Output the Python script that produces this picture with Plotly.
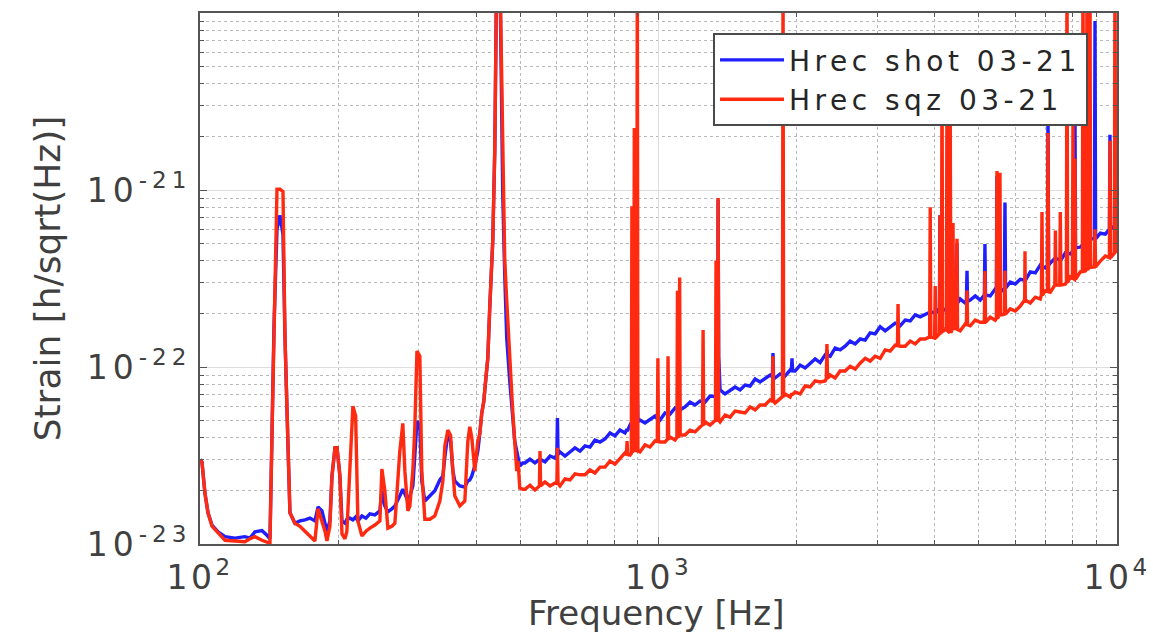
import plotly.graph_objects as go

# Units of the value lists: strain in 1e-23 h/sqrt(Hz)
SCALE = 1e-23

freq_hz = [
    100, 101, 102.5, 104.1, 106.2, 109.5, 113.4, 119.2, 125.3, 128.5, 131.8, 136.5, 140.0, 142.1,
    143.6, 145.0, 147.2, 149.4, 151.7, 153.2, 155.5, 157.1, 161.1,
    165.2, 169.4, 173.7, 178.1, 180.9, 184.5, 187.3, 189.2, 192.0, 194.0, 197.0, 199.0, 201.9, 204.0, 207.1, 209.1, 212.3, 215.5, 218.5, 221.0,
    225.5, 230.1, 234.7, 240.7, 246.8, 249.3, 253.0, 256.9, 262.1, 266.1, 272.8, 276.9, 279.8, 284.0, 286.9, 291.2, 294.0, 297.3, 301.6, 304.6, 309.3,
    317.1, 325.2, 333.5, 338.6, 342.0, 347.2, 352.0, 356.0, 359.5, 368.7, 378.1, 383.8, 387.6, 391.5, 397.5, 403.6,
    407.6, 411.7, 415.9, 420.0, 424.3, 428.6, 432.8, 435.1, 439.5, 443.9, 450.6, 457.4, 462.0, 466.7, 473.8, 481.0, 485.8, 490.7, 494.0, 498.2, 505.8,
    511.4, 524.4, 537.8, 549.9, 551.5, 553.1, 565.5, 579.9, 594.6, 600.2, 602.0, 603.8, 609.7,
    625.2, 641.1, 657.4, 674.2, 691.3, 708.9, 726.9, 745.4, 764.4, 783.8, 803.8, 824.2, 845.2, 851.4, 854.0, 856.6, 866.7,
    872.4, 875.0, 877.6, 883.0, 885.6, 888.2, 896.3, 899.0, 901.7, 911.3, 934.5, 958.3, 982.7, 994.0, 997.0, 1000.0, 1007.7, 1033.3, 1045.9, 1049.0, 1052.1,
    1059.6, 1086.6, 1096.7, 1100.0, 1103.3, 1108.7, 1112.0, 1115.3, 1142.6, 1171.6, 1201.4, 1232.0, 1247.2, 1251.0, 1254.8, 1263.4, 1295.5, 1331.0, 1335.0, 1339.0, 1345.0, 1349.0, 1353.0,
    1362.3, 1397.0, 1432.5, 1469.0, 1506.3, 1544.7, 1584.0, 1624.3, 1665.6, 1708.0, 1751.4, 1771.7, 1777.0, 1782.3, 1796.0, 1841.7, 1863.4, 1869.0, 1874.6, 1888.6, 1936.6, 1949.1, 1955.0, 1960.9, 1985.9, 2036.4,
    2088.2, 2141.4, 2195.9, 2251.7, 2309.0, 2323.0, 2330.0, 2337.0, 2367.8, 2428.0, 2489.8, 2553.2, 2618.2, 2684.8, 2753.1, 2823.2, 2895.0, 2968.7, 3044.2, 3121.7, 3201.1, 3282.6,
    3320.0, 3330.0, 3340.0, 3366.1, 3451.8, 3539.6, 3629.7, 3722.0, 3816.8, 3902.0, 3914.0, 3926.0, 4001.0, 4013.5, 4026.0,
    4099.0, 4111.0, 4123.0, 4141.0, 4153.0, 4165.0, 4220.3, 4246.0, 4258.0, 4270.0, 4315.0, 4328.0, 4341.0, 4376.0, 4389.0, 4402.0, 4437.9, 4464.0, 4477.0, 4490.0,
    4550.8, 4666.6, 4694.0, 4708.0, 4722.0, 4785.4, 4907.2, 5032.0, 5137.0, 5152.0, 5167.0, 5291.4, 5426.0, 5457.0, 5473.0, 5489.0, 5540.0, 5556.0, 5572.0, 5640.0, 5680.0, 5697.0, 5714.0,
    5850.9, 5999.8, 6152.5, 6290.0, 6300.0, 6310.0, 6469.6, 6634.3, 6803.1, 6841.0, 6861.0, 6881.0, 6976.2, 7051.0, 7072.0, 7093.0, 7153.7,
    7318.0, 7340.0, 7362.0, 7500.0, 7522.5, 7545.0, 7713.9, 7757.0, 7780.0, 7803.0, 7910.2, 7993.0, 8017.0, 8041.0, 8075.0, 8098.0, 8122.0,
    8317.9, 8404.0, 8429.0, 8454.0, 8529.6, 8575.0, 8601.0, 8627.0, 8705.0, 8731.0, 8757.0, 8927.0, 8954.0, 8981.0, 9197.5, 9431.5, 9625.0, 9654.0, 9683.0, 9870.0, 9900.0, 9930.0, 10000,
]

shot_1e23 = [
    3.0, 2.9, 1.94, 1.50, 1.28, 1.17, 1.10, 1.08, 1.10, 1.08, 1.17, 1.19, 1.12, 1.07,
    4.4, 17, 60, 72, 56, 15, 3.7, 1.5, 1.31,
    1.35, 1.37, 1.40, 1.35, 1.62, 1.54, 1.31, 1.18, 1.35, 2.42, 3.5, 3.5, 2.42, 1.35, 1.31, 1.38, 1.40, 1.37, 1.42, 1.35,
    1.44, 1.40, 1.48, 1.46, 1.54, 2.0, 1.64, 1.52, 1.58, 1.64, 1.87, 2.04, 1.92, 1.75, 1.87, 2.13, 3.1, 4.95, 4.6, 2.27, 1.75,
    1.87, 2.0, 2.3, 2.42, 3.1, 4.2, 3.8, 2.6, 2.27, 2.13, 2.1, 2.27, 2.3, 2.42, 2.76, 3.35,
    4.2, 5.5, 6.4, 8.6, 11.2, 22, 40, 52, 170, 2000, 2000, 95, 33, 14.5, 8.3, 5.5, 3.8, 3.35, 3.1, 2.76, 2.87,
    2.87, 3.02, 2.87, 3.0, 3.02, 3.0, 2.91, 3.14, 3.06, 3.2, 5.15, 3.2, 3.31,
    3.14, 3.31, 3.49, 3.35, 3.58, 3.53, 3.87, 3.77, 3.92, 4.24, 4.08, 4.41, 4.24, 4.4, 4.4, 4.4, 4.70,
    4.6, 4.6, 4.6, 4.64, 40, 4.64, 4.9, 7.5, 4.9, 5.02, 4.83, 5.02, 5.28, 5.1, 5.1, 5.1, 5.02, 5.50, 5.45, 5.45, 5.45,
    5.42, 5.87, 5.8, 5.8, 5.8, 5.72, 5.72, 5.72, 5.95, 6.34, 6.10, 6.43, 6.4, 6.4, 6.4, 6.34, 6.86, 6.8, 6.8, 6.8, 6.9, 88, 11.5,
    7.42, 7.04, 7.32, 7.71, 7.42, 7.91, 7.81, 8.56, 8.23, 8.56, 9.01, 8.8, 12.0, 8.8, 8.67, 9.13, 9.0, 9.0, 9.0, 8.89, 9.61, 9.5, 11.2, 9.5, 9.49, 10.25,
    9.87, 10.4, 11.1, 10.6, 11.7, 11.6, 12.5, 11.6, 11.5, 12.8, 12.5, 13.1, 14.0, 13.5, 14.4, 14.2, 15.6, 15.4, 16.9, 16.0, 16.9, 17.7,
    17.5, 17.5, 17.5, 17.1, 18.4, 18.2, 19.7, 19.2, 19.9, 20.5, 20.5, 20.5, 20.2, 20.2, 20.2,
    21.5, 72, 21.5, 21.2, 21.2, 21.2, 21.0, 21.5, 21.5, 21.5, 22.7, 22.7, 22.7, 22.4, 22.4, 22.4, 22.4, 23.0, 50, 23.0,
    24.2, 23.0, 23.5, 35, 23.5, 23.9, 25.2, 23.9, 25.5, 49.5, 25.5, 25.2, 27.6, 27, 120, 27, 26.5, 26.5, 26.5, 27.5, 27.9, 85, 27.9,
    30.2, 29.4, 31.3, 30.9, 30.9, 30.9, 34.5, 34.0, 37.7, 37, 37, 37, 36.3, 37.5, 260, 37.5, 38.7,
    41.0, 41.0, 41.0, 40.2, 40.2, 40.2, 44.1, 44, 44, 44, 43.5, 45, 45, 45, 47, 265, 47,
    47.6, 49, 49, 49, 50.2, 51, 51, 51, 53, 53, 53, 53, 900, 53, 57.0, 56.3, 60, 205, 60, 62.6, 62.6, 62.6, 64.2,
]

sqz_1e23 = [
    3.0, 2.9, 1.94, 1.50, 1.26, 1.15, 1.05, 1.04, 1.03, 1.07, 1.10, 1.05, 1.03, 1.01,
    4.4, 17, 101, 101, 98, 15, 3.7, 1.5, 1.31,
    1.26, 1.18, 1.10, 1.04, 1.58, 1.35, 1.18, 1.04, 1.26, 2.42, 3.5, 3.5, 2.42, 1.14, 1.07, 1.18, 2.58, 6.0, 5.3, 1.35,
    1.11, 1.18, 1.23, 1.28, 1.35, 2.65, 2.0, 1.23, 1.26, 1.31, 3.35, 4.8, 2.58, 1.54, 1.64, 2.6, 4.4, 12.3, 11.5, 2.58, 1.38,
    1.38, 1.44, 1.75, 2.27, 3.58, 4.4, 4.1, 2.6, 1.87, 1.64, 1.75, 3.8, 4.6, 4.0, 2.58, 3.8,
    4.2, 5.5, 6.4, 8.6, 11.2, 22, 40, 52, 170, 2000, 2000, 128, 40, 23.6, 10.8, 5.6, 3.8, 2.58, 2.94, 2.07, 2.04,
    2.04, 2.15, 2.02, 2.13, 3.35, 2.13, 2.24, 2.13, 2.21, 2.2, 3.5, 2.2, 2.13,
    2.33, 2.30, 2.49, 2.46, 2.46, 2.62, 2.52, 2.72, 2.72, 2.94, 2.83, 3.06, 3.27, 3.2, 3.82, 3.2, 3.18,
    3.25, 81, 3.3, 3.4, 224, 3.4, 3.35, 2000, 3.35, 3.31, 3.63, 3.53, 3.82, 3.8, 11.2, 3.8, 3.77, 3.77, 3.9, 11.5, 3.9,
    4.02, 3.87, 4.0, 27, 4.0, 4.1, 32, 4.13, 4.13, 4.40, 4.30, 4.58, 4.7, 16.2, 4.7, 4.89, 4.70, 5.0, 40, 5.0, 5.0, 90, 5.0,
    4.89, 5.35, 5.21, 5.64, 5.57, 5.50, 5.95, 5.72, 6.10, 6.10, 6.52, 6.4, 11.5, 6.4, 6.26, 6.60, 6.8, 2000, 6.8, 7.04, 6.77, 7.0, 7.0, 7.0, 7.23, 7.04,
    7.81, 7.71, 8.34, 8.23, 8.34, 8.6, 13.5, 8.6, 9.01, 8.67, 9.49, 9.49, 10.1, 9.74, 10.5, 11.2, 10.8, 11.5, 11.2, 12.5, 12.3, 13.3,
    13.2, 22.7, 13.2, 13.1, 13.1, 14.0, 13.5, 14.4, 14.4, 14.8, 80, 14.8, 14.6, 28.7, 14.6,
    15.4, 72, 15.4, 15.8, 535, 15.8, 16.4, 16.0, 500, 16.0, 15.6, 300, 15.6, 16.5, 65, 16.5, 16.6, 16.3, 53, 16.3,
    16.0, 17.5, 17.3, 27, 17.3, 17.1, 18.4, 17.9, 17.9, 34.9, 17.9, 19.1, 18.4, 18.8, 128, 18.8, 19.7, 125, 19.7, 19.8, 19.9, 35, 19.9,
    21.3, 20.7, 22.1, 23.9, 45, 23.9, 23.0, 24.8, 24.2, 25.5, 75, 25.5, 26.9, 26.7, 210, 26.7, 26.5,
    29, 59, 29, 29.1, 75, 29.1, 29.4, 30, 2000, 30, 32.2, 31.5, 260, 31.5, 31.3, 150, 31.3,
    34.5, 34.7, 2000, 34.7, 34.9, 35.5, 2000, 35.5, 36.5, 2000, 36.5, 36.7, 60, 36.7, 39.7, 42.4, 41.5, 190, 41.5, 44, 2000, 44.5, 45.3,
]

assert len(freq_hz) == len(shot_1e23) == len(sqz_1e23), (len(freq_hz), len(shot_1e23), len(sqz_1e23))

x_tick_vals = [100, 1000, 10000]
x_tick_text = ["10<sup>2</sup>", "10<sup>3</sup>", "10<sup>4</sup>"]
y_tick_vals = [1e-23, 1e-22, 1e-21]
y_tick_text = ["10<sup>-23</sup>", "10<sup>-22</sup>", "10<sup>-21</sup>"]
x_minor = [m * d for d in (100, 1000) for m in range(2, 10)]
y_minor = [m * d for d in (1e-23, 1e-22, 1e-21) for m in range(2, 10)]

FONT = "DejaVu Sans"
TXT = "#404040"

fig = go.Figure()
fig.add_trace(go.Scatter(
    x=freq_hz, y=[v * SCALE for v in shot_1e23], mode="lines",
    name="Hrec shot 03-21", line=dict(color="#1e1eff", width=3.4),
))
fig.add_trace(go.Scatter(
    x=freq_hz, y=[v * SCALE for v in sqz_1e23], mode="lines",
    name="Hrec sqz 03-21", line=dict(color="#ff2a10", width=3.4),
))

axis_common = dict(
    type="log", automargin=False,
    showline=True, linecolor="#555555", linewidth=2, mirror="allticks",
    ticks="inside", ticklen=7, tickcolor="#555555", tickwidth=1,
    showgrid=True, gridcolor="#dedede", gridwidth=1,
    tickfont=dict(family=FONT, size=33, color=TXT),
    zeroline=False,
)

fig.update_layout(
    width=1153, height=636,
    margin=dict(l=200, r=36, t=13, b=92),
    paper_bgcolor="white", plot_bgcolor="white",
    showlegend=True,
    legend=dict(
        x=0.9684, y=0.962, xanchor="right", yanchor="top",
        bgcolor="white", bordercolor="#4a4a4a", borderwidth=2,
        font=dict(family=FONT, size=28, color="#262626"),
        itemwidth=64, tracegroupgap=0,
    ),
    xaxis=dict(
        **axis_common,
        range=[2, 4],
        tickmode="array", tickvals=x_tick_vals, ticktext=x_tick_text,
        ticklabelstandoff=3,
        minor=dict(tickmode="array", tickvals=x_minor, ticks="inside", ticklen=4,
                   tickcolor="#555555", showgrid=True, gridcolor="#b8b8b8", griddash="dot"),
    ),
    yaxis=dict(
        **axis_common,
        range=[-23, -20],
        tickmode="array", tickvals=y_tick_vals, ticktext=y_tick_text,
        ticklabelstandoff=0,
        minor=dict(tickmode="array", tickvals=y_minor, ticks="inside", ticklen=4,
                   tickcolor="#555555", showgrid=True, gridcolor="#b8b8b8", griddash="dot"),
        title=dict(text="Strain [h/sqrt(Hz)]", font=dict(family=FONT, size=36, color=TXT), standoff=40),
    ),
    annotations=[dict(
        text="Frequency [Hz]", xref="paper", yref="paper", x=0.4969, y=-0.172,
        xanchor="center", yanchor="bottom", showarrow=False,
        font=dict(family=FONT, size=34, color=TXT),
    )],
)

# Page without default body margin; wider letter spacing to mimic the reference's wide
# glyph rendering, then a tiny font-size change so the legend box is re-measured.
post_js = """
document.body.style.margin = '0';
var st = document.createElement('style');
st.innerHTML = '.legendtext{letter-spacing:4.5px} .xtick text{letter-spacing:3.5px} .ytick text{letter-spacing:5px}';
document.head.appendChild(st);
var gd = document.getElementById('{plot_id}');
if (window.Plotly && gd) { Plotly.relayout(gd, {'legend.font.size': 28.01}); }
"""

fig.write_html("out.html", post_script=post_js, config={"displayModeBar": False})
